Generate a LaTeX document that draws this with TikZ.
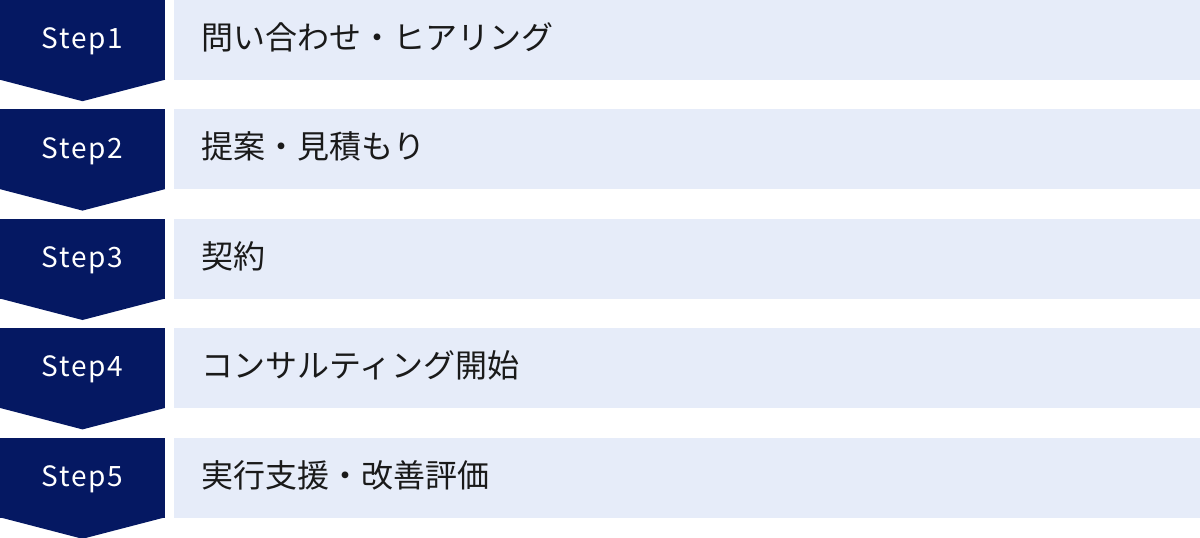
\documentclass[tikz,border=0pt]{standalone}
\usepackage{fontspec}
\setmainfont{Noto Sans CJK JP}
\newfontfamily\stepfont[LetterSpace=6.5]{Noto Sans CJK JP}
\usepackage{xcolor}
\usepackage{tikz}
\usetikzlibrary{positioning,calc}

\definecolor{stepnavy}{HTML}{051862}
\definecolor{boxblue}{HTML}{E6ECF9}
\definecolor{labelgray}{HTML}{1A1A1A}

\begin{document}
\begin{tikzpicture}[
    x=1pt, y=-1pt,
    node distance=29pt and 9pt,
    stepbox/.style={rectangle, fill=stepnavy, text=white, minimum width=165pt, minimum height=80pt, inner sep=0pt, text height=20.5pt, text depth=3pt, font=\stepfont\fontsize{28}{32}\selectfont},
    textbox/.style={rectangle, fill=boxblue, text=labelgray, minimum width=1026pt, minimum height=80pt, inner xsep=27pt, inner ysep=0pt, text width=972pt, text height=22pt, text depth=3pt, align=left, font=\fontsize{32}{36}\selectfont},
    tip/.style={fill=stepnavy},
]
    \useasboundingbox (0,0) rectangle (1200,538);

    \node[stepbox] (s1) at (82.5,40) {Step1};
    \node[stepbox, below=of s1] (s2) {Step2};
    \node[stepbox, below=of s2] (s3) {Step3};
    \node[stepbox, below=of s3] (s4) {Step4};
    \node[stepbox, below=of s4] (s5) {Step5};

    \node[textbox, right=of s1] (t1) {問い合わせ・ヒアリング};
    \node[textbox, right=of s2] (t2) {提案・見積もり};
    \node[textbox, right=of s3] (t3) {契約};
    \node[textbox, right=of s4] (t4) {コンサルティング開始};
    \node[textbox, right=of s5] (t5) {実行支援・改善評価};

    % chevron tips
    \foreach \s in {s1,s2,s3,s4,s5}
        \fill[tip] ($(\s.south west)+(0,-0.5)$) -- ($(\s.south east)+(0,-0.5)$) -- ($(\s.south)+(0,21)$) -- cycle;
\end{tikzpicture}
\end{document}
